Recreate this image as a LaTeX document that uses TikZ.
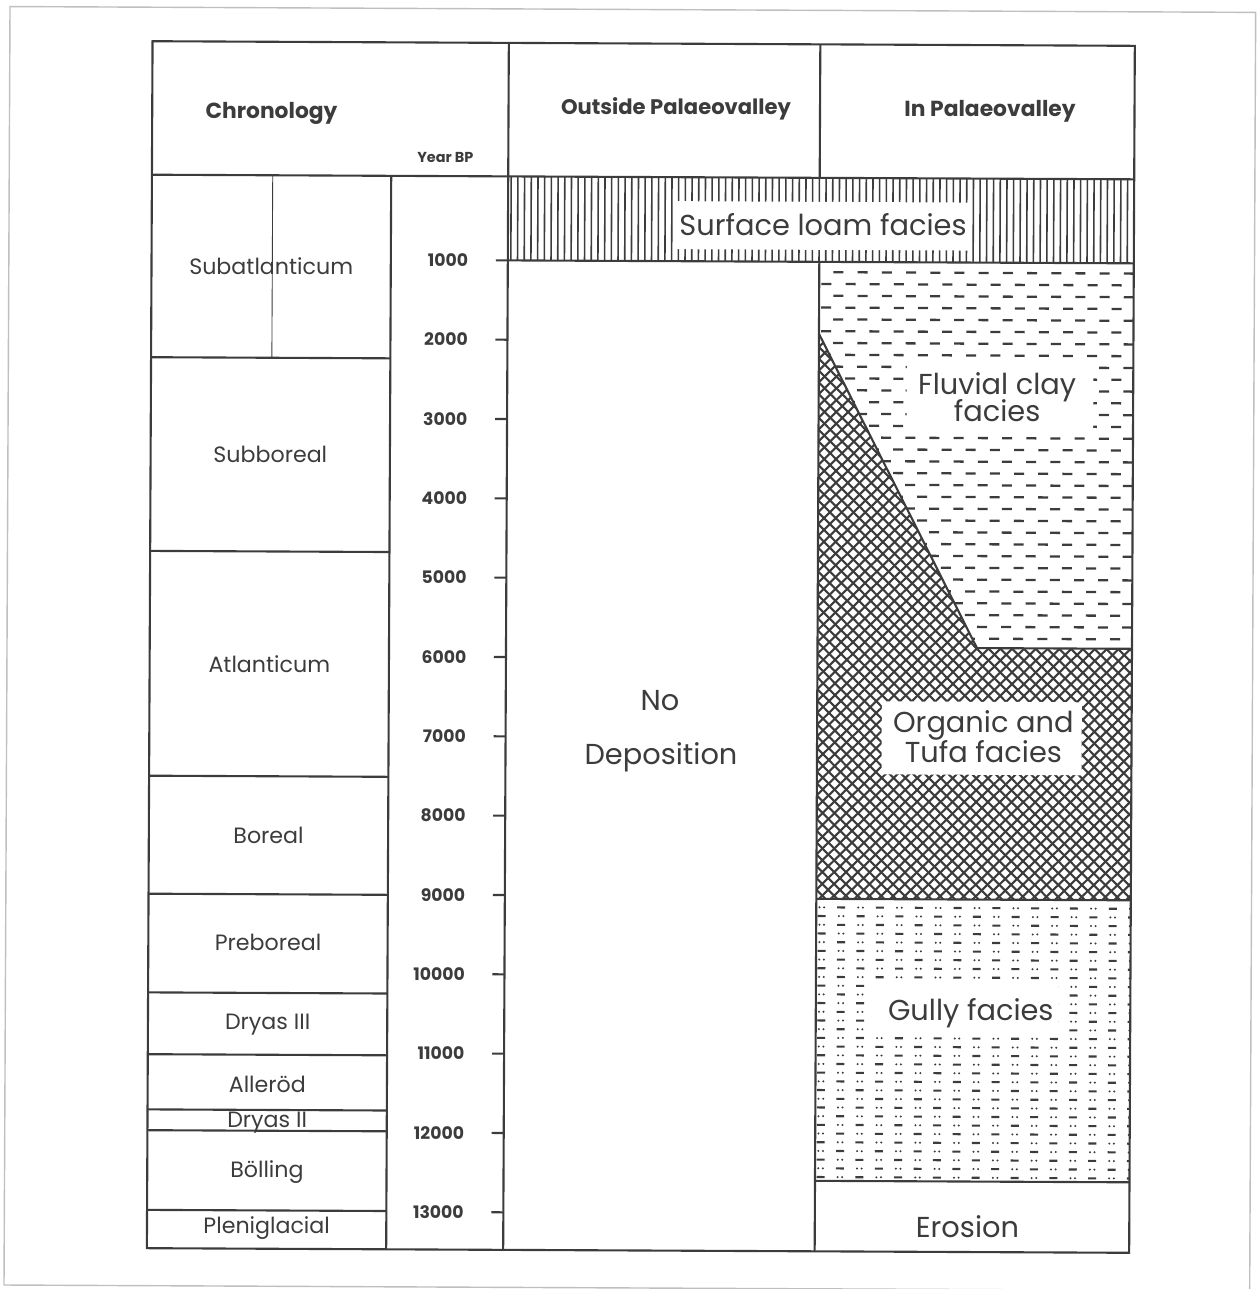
\documentclass[tikz,border=0pt]{standalone}
\usepackage{fontspec}
\setmainfont{Poppins}
\definecolor{ink}{HTML}{3C3C3C}
\tikzset{
    frame/.style={draw=ink, line width=0.6pt},
    period/.style={font=\fontsize{6.3}{7}\selectfont, text=ink},
    yearlab/.style={anchor=east, inner sep=0pt, font=\fontsize{4.9}{6}\selectfont\bfseries, text=ink},
    head/.style={font=\fontsize{6.2}{7}\selectfont\bfseries, text=ink},
    facies/.style={font=\fontsize{8.2}{8.5}\selectfont, text=ink, align=center},
    hatchline/.style={draw=ink, line width=0.6pt}
}

\begin{document}
\begin{tikzpicture}[x=0.01cm, y=-0.01cm]
    \useasboundingbox (0,0) rectangle (1256,1289);
    \begin{scope}[rotate around={-0.27:(640,645)}]
    % page frame
    \draw[gray!50, line width=0.4pt] (7,9.5) rectangle (1252.7,1288);

    % surface loam: vertical lines
    \begin{scope}
        \clip (506,177) rectangle (1132,261);
        \foreach \x in {509,515.7,...,1132}
            \draw[ink, line width=0.45pt] (\x,177) -- (\x,261);
    \end{scope}

    % organic and tufa: cross hatch
    \begin{scope}
        \clip (817.5,333) -- (977,646.5) -- (1132,646.5) -- (1132,898) -- (817.5,898) -- cycle;
        \foreach \c in {-95,-83.2,...,815}
            \draw[hatchline] (\c+300,300) -- (\c+950,950);
        \foreach \c in {1140,1151.8,...,2045}
            \draw[hatchline] (\c-300,300) -- (\c-950,950);
    \end{scope}

    % fluvial clay: dashes
    \begin{scope}
        \clip (817.5,261) -- (1132,261) -- (1132,646.5) -- (977,646.5) -- (817.5,333) -- cycle;
        \foreach \r in {0,...,32}
            \foreach \k in {0,...,14}
                \draw[ink, line width=0.65pt] ({807.5+mod(\r,2)*12.1+\k*24.2},{271.3+\r*11.8}) -- ++(10,0);
    \end{scope}

    % gully: dashes and dots
    \begin{scope}
        \clip (817.5,898) rectangle (1132,1180);
        \foreach \r in {0,...,32}
            \foreach \k in {0,...,16} {
                \pgfmathparse{int(mod(\r+\k,2))}
                \ifnum\pgfmathresult=0
                    \fill[ink] ({823+\k*19.4-2.3},{906.5+\r*8.7}) circle[radius=0.32pt]
                               ({823+\k*19.4+2.3},{906.5+\r*8.7}) circle[radius=0.32pt];
                \else
                    \draw[ink, line width=0.6pt] ({819+\k*19.4},{906.5+\r*8.7}) -- ++(8,0);
                \fi
            }
    \end{scope}

    % white patches behind labels
    \fill[white] (673,201) rectangle (967,249);
    \fill[white] (905.5,361.6) rectangle (1092.1,426.6);
    \fill[white] (882.1,700.2) rectangle (1082.1,773.2);
    \fill[white] (873.4,982) rectangle (1060,1035);

    % table
    \draw[frame] (149.7,43.5) rectangle (1132,1250.5);
    \draw[frame] (149.7,177) -- (1132,177);
    \draw[frame] (389,177) -- (389,1250.5);
    \draw[frame] (506,43.5) -- (506,1250.5);
    \draw[frame] (817.5,43.5) -- (817.5,177) (817.5,261) -- (817.5,1250.5);
    \draw[frame] (506,261) -- (1132,261);
    \draw[frame] (817.5,333) -- (977,646.5) -- (1132,646.5);
    \draw[frame] (817.5,898) -- (1132,898);
    \draw[frame] (817.5,1180) -- (1132,1180);
    \foreach \y in {359.5,553.2,778,896,994.7,1056.5,1111.7,1132.5,1212.2}
        \draw[frame] (149.7,\y) -- (389,\y);
    \draw[ink, line width=0.25pt] (270.5,177) -- (270.5,359.5);

    % year scale
    \foreach \k in {1,...,13} {
        \draw[frame] (494,{261+(\k-1)*79.33}) -- (506,{261+(\k-1)*79.33});
        \node[yearlab] (y\k) at (467,{261+(\k-1)*79.33}) {\k000};
    }

    % headings
    \node[head] (chron) at (269,115) {Chronology};
    \node[yearlab, anchor=center, font=\fontsize{4.1}{5}\selectfont\bfseries] (yearbp) at (443,158) {Year BP};
    \node[head, font=\fontsize{6}{7}\selectfont\bfseries] (outside) at (673.5,109) {Outside Palaeovalley};
    \node[head] (inside) at (987.5,109.4) {In Palaeovalley};

    % periods
    \node[period] (subatl) at (269.4,268.3) {Subatlanticum};
    \node[period] (subbor) at (269.4,456.4) {Subboreal};
    \node[period] (atlant) at (269.4,665.6) {Atlanticum};
    \node[period] (boreal) at (269.4,837) {Boreal};
    \node[period] (prebor) at (269.4,944) {Preboreal};
    \node[period] (dryas3) at (269.4,1026.5) {Dryas III};
    \node[period] (allerod) at (269.4,1086) {Alleröd};
    \node[period] (dryas2) at (269.4,1124) {Dryas II};
    \node[period] (bolling) at (269.4,1174) {Bölling};
    \node[period] (plenigl) at (269.4,1229.4) {Pleniglacial};

    % facies
    \node[facies] (loam) at (821,224) {Surface loam facies};
    \node[facies] (nodep1) at (660.3,700) {No};
    \node[facies] (nodep2) at (661.5,757) {Deposition};
    \node[facies] (fluvial1) at (996,385.8) {Fluvial clay};
    \node[facies] (fluvial2) at (996,409) {facies};
    \node[facies] (organic) at (983.8,735) {Organic and\\Tufa facies};
    \node[facies] (gully) at (972.5,1012) {Gully facies};
    \node[facies] (erosion) at (970.2,1225.2) {Erosion};
    \end{scope}
\end{tikzpicture}
\end{document}
